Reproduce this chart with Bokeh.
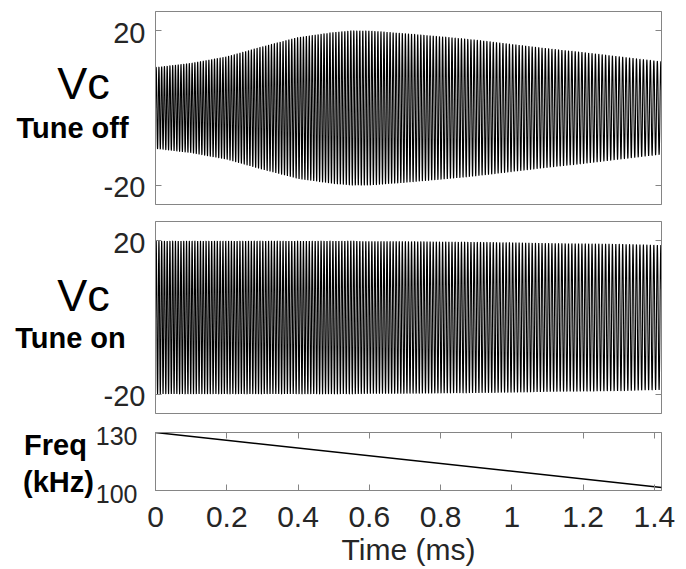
import numpy as np
from bokeh.plotting import figure
from bokeh.layouts import column, row
from bokeh.models import LinearAxis, FixedTicker, Range1d
from bokeh.core.properties import value
from bokeh.embed import file_html
from bokeh.resources import INLINE

# ---- data ----
# frequency sweep (bottom panel)
freq_t_ms = [0.0, 1.42]
freq_khz = [130.0, 101.6]

# upper envelope of Vc (peak value) at these times
env_t_ms = [0.0, 0.1, 0.2, 0.3, 0.4, 0.5, 0.55, 0.6, 0.7, 0.8, 0.9, 1.0, 1.1, 1.2, 1.3, 1.42]
vc_off_peak = [10.5, 11.6, 13.3, 15.9, 18.3, 19.6, 20.0, 20.0, 19.3, 18.5, 17.6, 16.5, 15.4, 14.4, 13.3, 12.0]
vc_on_peak = [19.9, 19.9, 19.9, 19.9, 19.9, 19.9, 19.9, 19.8, 19.8, 19.7, 19.6, 19.5, 19.3, 19.2, 19.1, 18.8]

x_ticks = [0, 0.2, 0.4, 0.6, 0.8, 1.0, 1.2, 1.4]
x_tick_labels = ["0", "0.2", "0.4", "0.6", "0.8", "1", "1.2", "1.4"]
vc_ticks = [-20, 20]
vc_tick_labels = ["-20", "20"]
freq_ticks = [100, 130]
freq_tick_labels = ["100", "130"]

# ---- waveform built from the read sweep and envelopes ----
t = np.linspace(freq_t_ms[0], freq_t_ms[-1], 24000)
f_t = np.interp(t, freq_t_ms, freq_khz)            # kHz
cycles = np.concatenate([[0.0], np.cumsum(0.5 * (f_t[1:] + f_t[:-1]) * np.diff(t))])
carrier = np.sin(2 * np.pi * cycles)
vc_off = np.interp(t, env_t_ms, vc_off_peak) * carrier
vc_on = np.interp(t, env_t_ms, vc_on_peak) * carrier

# ---- layout / style ----
FONT = "Liberation Sans"
AX = "#858585"
TXT = "#262626"
XR = (0, 1.42)
LEFT_W = 146          # width of the left text strip
FRAME_X = 155         # page x of the plot frames' left edge
FRAME_W = 506
RIGHT_B = 25
PPM = FRAME_W / (XR[1] - XR[0])   # pixels per ms


def px_x(px):
    return (px - FRAME_X) / PPM


def style_axis(ax, ticks, labels=None, size="1px", standoff=0):
    ax.ticker = FixedTicker(ticks=ticks)
    ax.minor_tick_line_color = None
    ax.major_tick_in = 6
    ax.major_tick_out = 0
    ax.axis_line_color = AX
    ax.major_tick_line_color = AX
    ax.major_label_text_font = FONT
    ax.major_label_text_color = TXT
    ax.major_label_standoff = standoff
    if labels is not None:
        ax.major_label_text_font_size = size
        ax.major_label_overrides = {k: v for k, v in zip(ticks, labels)}
    else:
        ax.major_label_text_font_size = "1px"
        ax.major_label_text_alpha = 0


def make_fig(h, yr, bt, bb):
    p = figure(width=686 - LEFT_W, height=h, x_range=Range1d(*XR), y_range=Range1d(*yr),
               output_backend="svg", toolbar_location=None, frame_align=False,
               min_border_left=FRAME_X - LEFT_W, min_border_right=RIGHT_B,
               min_border_top=bt, min_border_bottom=bb)
    p.xgrid.visible = False
    p.ygrid.visible = False
    p.outline_line_color = AX
    p.background_fill_color = "white"
    p.border_fill_color = "white"
    return p


def make_text_fig(h, yr, bt, bb):
    """Left strip that shares the panel's vertical scale (for the side texts)."""
    ppu = (h - bt - bb) / (yr[1] - yr[0])
    yr_full = (yr[0] - bb / ppu, yr[1] + bt / ppu)
    p = figure(width=LEFT_W, height=h, x_range=Range1d(px_x(0), px_x(LEFT_W)),
               y_range=Range1d(*yr_full), output_backend="svg", toolbar_location=None,
               frame_align=False,
               min_border_left=0, min_border_right=0, min_border_top=0, min_border_bottom=0)
    p.xaxis.visible = False
    p.yaxis.visible = False
    p.xgrid.visible = False
    p.ygrid.visible = False
    p.outline_line_color = None
    p.border_fill_color = "white"
    return p, ppu


def page_y(yr, ppu, frame_top, py):
    # page pixel y -> data y of a panel whose frame top is at page y frame_top
    return yr[1] - (py - frame_top) / ppu


def add_text(p, x, y, text, size, bold=False, align="center", color="black", y_off=0):
    p.text(x=x, y=y, text=text, text_font=value(FONT), text_font_size=value(size),
           text_font_style="bold" if bold else "normal", text_align=align,
           text_baseline="middle", text_color=color, y_offset=y_off)


H1, H2, H3 = 212, 207, 150
B1, B2, B3 = (11, 8), (9, 6), (13, 79)
Y1, Y2, Y3 = (-25, 25), (-25, 25), (100, 130)
TOP1, TOP2, TOP3 = 0, H1, H1 + H2

# ---------- top panel ----------
p1 = make_fig(H1, Y1, *B1)
p1.xaxis.visible = False
style_axis(p1.yaxis[0], vc_ticks)
r1 = LinearAxis()
style_axis(r1, vc_ticks)
p1.add_layout(r1, "right")
p1.line(t, vc_off, line_color="black", line_width=1.1)

l1, u1 = make_text_fig(H1, Y1, *B1)
add_text(l1, [px_x(145)] * len(vc_ticks), vc_ticks, vc_tick_labels, "29px",
         align="right", color=TXT, y_off=2)
ft1 = TOP1 + B1[0]
add_text(l1, [px_x(83)], [page_y(Y1, u1, ft1, 83)], ["Vc"], "45px")
add_text(l1, [px_x(72)], [page_y(Y1, u1, ft1, 127)], ["Tune off"], "29px", bold=True)

# ---------- middle panel ----------
p2 = make_fig(H2, Y2, *B2)
p2.xaxis.visible = False
style_axis(p2.yaxis[0], vc_ticks)
r2 = LinearAxis()
style_axis(r2, vc_ticks)
p2.add_layout(r2, "right")
p2.line(t, vc_on, line_color="black", line_width=1.1)

l2, u2 = make_text_fig(H2, Y2, *B2)
add_text(l2, [px_x(145)] * len(vc_ticks), vc_ticks, vc_tick_labels, "29px",
         align="right", color=TXT, y_off=2)
ft2 = TOP2 + B2[0]
add_text(l2, [px_x(83)], [page_y(Y2, u2, ft2, 295)], ["Vc"], "45px")
add_text(l2, [px_x(70)], [page_y(Y2, u2, ft2, 337)], ["Tune on"], "29px", bold=True)

# ---------- bottom panel ----------
p3 = make_fig(H3, Y3, *B3)
style_axis(p3.yaxis[0], freq_ticks)
p3.yaxis[0].major_tick_line_color = None
style_axis(p3.xaxis[0], x_ticks, x_tick_labels, "30px", 16)
p3.xaxis[0].axis_label = "Time (ms)"
p3.xaxis[0].axis_label_text_font = FONT
p3.xaxis[0].axis_label_text_font_size = "30px"
p3.xaxis[0].axis_label_text_font_style = "normal"
p3.xaxis[0].axis_label_text_color = TXT
p3.xaxis[0].axis_label_standoff = 3
tp = LinearAxis()
style_axis(tp, x_ticks)
p3.add_layout(tp, "above")
p3.line(freq_t_ms, freq_khz, line_color="black", line_width=1.5)

l3, u3 = make_text_fig(H3, Y3, *B3)
add_text(l3, [px_x(137)] * len(freq_ticks), freq_ticks, freq_tick_labels, "25px",
         align="right", color=TXT, y_off=3)
ft3 = TOP3 + B3[0]
add_text(l3, [px_x(55)], [page_y(Y3, u3, ft3, 444)], ["Freq"], "29px", bold=True)
add_text(l3, [px_x(58)], [page_y(Y3, u3, ft3, 481)], ["(kHz)"], "29px", bold=True)

layout = column(row(l1, p1, spacing=0), row(l2, p2, spacing=0), row(l3, p3, spacing=0), spacing=0)
open("out.html", "w").write(file_html(layout, INLINE))
